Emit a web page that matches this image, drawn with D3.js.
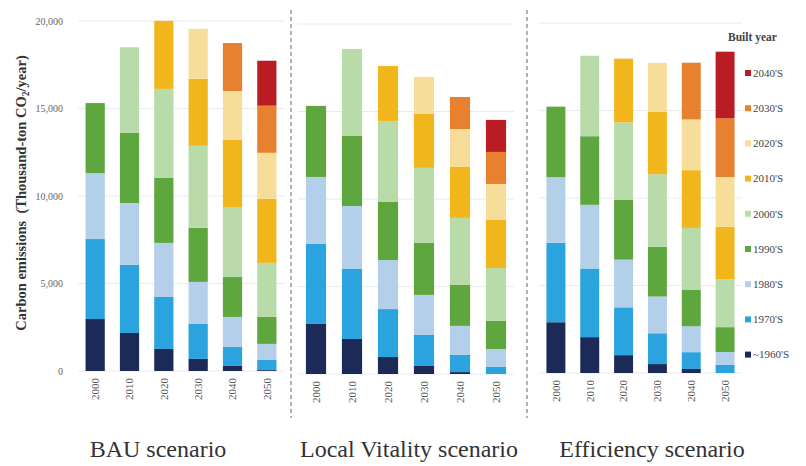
<!DOCTYPE html>
<html>
<head>
<meta charset="utf-8">
<script src="https://cdn.jsdelivr.net/npm/d3@7"></script>
<style>
  body { margin: 0; background: #fff; }
</style>
</head>
<body>
<svg width="806" height="466" font-family="'Liberation Serif', 'Times New Roman', Times, 'DejaVu Serif', 'Noto Serif', serif"></svg>
<script>
// built-year cohorts, bottom to top
var cohorts = ["~1960'S", "1970'S", "1980'S", "1990'S", "2000'S", "2010'S", "2020'S", "2030'S", "2040'S"];
var colors = ["#1b2a57", "#2aa3de", "#b3cfea", "#5ea63e", "#b9dba9", "#f2b61d", "#f6dd9a", "#e7812f", "#b91c23"];
var years = ["2000", "2010", "2020", "2030", "2040", "2050"];
var scenarios = ["BAU scenario", "Local Vitality scenario", "Efficiency scenario"];
var yTicks = [0, 5000, 10000, 15000, 20000];

// thousand-ton CO2 / year, one row per year, one value per cohort
var bau = [
  [2970, 4570, 3770, 4000],
  [2170, 3890, 3540, 4000, 4900],
  [1260, 2970, 3090, 3710, 5090, 3890],
  [690, 2000, 2400, 3090, 4690, 3830, 2850],
  [290, 1080, 1720, 2280, 4000, 3830, 2800, 2740],
  [50, 580, 920, 1540, 3090, 3660, 2630, 2690, 2570]
];
var vitality = [
  [2860, 4570, 3830, 4060],
  [2000, 4000, 3600, 4000, 4970],
  [970, 2740, 2800, 3320, 4630, 3140],
  [460, 1770, 2290, 2970, 4290, 3090, 2110],
  [110, 980, 1660, 2340, 3830, 2910, 2170, 1830],
  [0, 400, 1030, 1600, 3030, 2740, 2060, 1830, 1830]
];
var efficiency = [
  [2900, 4540, 3750, 4030],
  [2050, 3920, 3640, 3920, 4600],
  [1020, 2730, 2730, 3410, 4430, 3640],
  [510, 1760, 2100, 2840, 4150, 3580, 2780],
  [230, 960, 1480, 2100, 3520, 3300, 2900, 3240],
  [0, 460, 740, 1420, 2730, 3010, 2840, 3350, 3810]
];

var svg = d3.select('svg');

var panels = [
  { data: bau, x0: 78, x1: 284, dy: 0, label: 158 },
  { data: vitality, x0: 298, x1: 514, dy: 3, label: 409 },
  { data: efficiency, x0: 539, x1: 742, dy: 2, label: 652 }
];

var y = d3.scaleLinear().domain([0, 20000]).range([371, 21]);

var stack = d3.stack()
  .keys(d3.range(cohorts.length))
  .value(function (d, k) { return d.vals[k] || 0; });

// y axis labels
svg.append("g")
  .selectAll("text")
  .data(yTicks)
  .enter()
  .append("text")
  .attr("x", 63)
  .attr("y", function (d) { return y(d); })
  .attr("dy", "0.35em")
  .attr("text-anchor", "end")
  .attr("font-size", 10)
  .attr("fill", "#666")
  .text(function (d) { return d3.format(",")(d); });

// y axis title
var title = svg.append("text")
  .attr("transform", "translate(26,193) rotate(-90)")
  .attr("text-anchor", "middle")
  .attr("font-size", 14.5)
  .attr("font-weight", "bold")
  .attr("fill", "#333")
  .attr("xml:space", "preserve");
title.append("tspan").text("Carbon emissions  (Thousand-ton CO");
title.append("tspan").attr("font-size", 9.5).attr("dy", 3).text("2");
title.append("tspan").attr("dy", -3).text("/year)");

panels.forEach(function (p, i) {
  var g = svg.append("g").attr("transform", "translate(0," + p.dy + ")");

  var x = d3.scaleBand()
    .domain(years)
    .range([p.x0, p.x1])
    .paddingInner(0.44)
    .paddingOuter(0.22);

  // grid
  g.append("g")
    .selectAll("line")
    .data(yTicks)
    .enter()
    .append("line")
    .attr("x1", p.x0)
    .attr("x2", p.x1)
    .attr("y1", function (d) { return y(d); })
    .attr("y2", function (d) { return y(d); })
    .attr("stroke", "#e6ebef")
    .attr("stroke-width", 1);

  var rows = p.data.map(function (v, j) { return { year: years[j], vals: v }; });
  var series = stack(rows);

  g.append("g")
    .selectAll("g")
    .data(series)
    .enter()
    .append("g")
    .attr("fill", function (d) { return colors[d.key]; })
    .selectAll("rect")
    .data(function (d) { return d; })
    .enter()
    .append("rect")
    .attr("x", function (d) { return x(d.data.year); })
    .attr("width", x.bandwidth())
    .attr("y", function (d) { return y(d[1]); })
    .attr("height", function (d) { return y(d[0]) - y(d[1]); });

  // year labels
  g.append("g")
    .selectAll("text")
    .data(years)
    .enter()
    .append("text")
    .attr("transform", function (d) {
      return "translate(" + (x(d) + x.bandwidth() / 2) + ",378) rotate(-90)";
    })
    .attr("text-anchor", "end")
    .attr("dy", "0.35em")
    .attr("font-size", 11)
    .attr("fill", "#555")
    .text(function (d) { return d; });

  svg.append("text")
    .attr("x", p.label)
    .attr("y", 457)
    .attr("text-anchor", "middle")
    .attr("font-size", 24)
    .attr("fill", "#333")
    .text(scenarios[i]);
});

// dashed dividers
svg.append("g")
  .selectAll("line")
  .data([291, 527])
  .enter()
  .append("line")
  .attr("x1", function (d) { return d; })
  .attr("x2", function (d) { return d; })
  .attr("y1", 10)
  .attr("y2", 418)
  .attr("stroke", "#999")
  .attr("stroke-width", 1.5)
  .attr("stroke-dasharray", "4,3");

// legend
var legend = svg.append("g");
legend.append("text")
  .attr("x", 728)
  .attr("y", 41)
  .attr("font-size", 11.5)
  .attr("font-weight", "bold")
  .attr("fill", "#444")
  .text("Built year");

var item = legend.selectAll("g.item")
  .data(d3.range(cohorts.length).reverse())
  .enter()
  .append("g")
  .attr("class", "item")
  .attr("transform", function (d, j) { return "translate(745," + (73 + j * 35.2) + ")"; });
item.append("rect")
  .attr("x", 0)
  .attr("y", -3)
  .attr("width", 6)
  .attr("height", 6)
  .attr("fill", function (d) { return colors[d]; });
item.append("text")
  .attr("x", 8)
  .attr("dy", "0.35em")
  .attr("font-size", 11)
  .attr("fill", "#444")
  .text(function (d) { return cohorts[d]; });
</script>
</body>
</html>
